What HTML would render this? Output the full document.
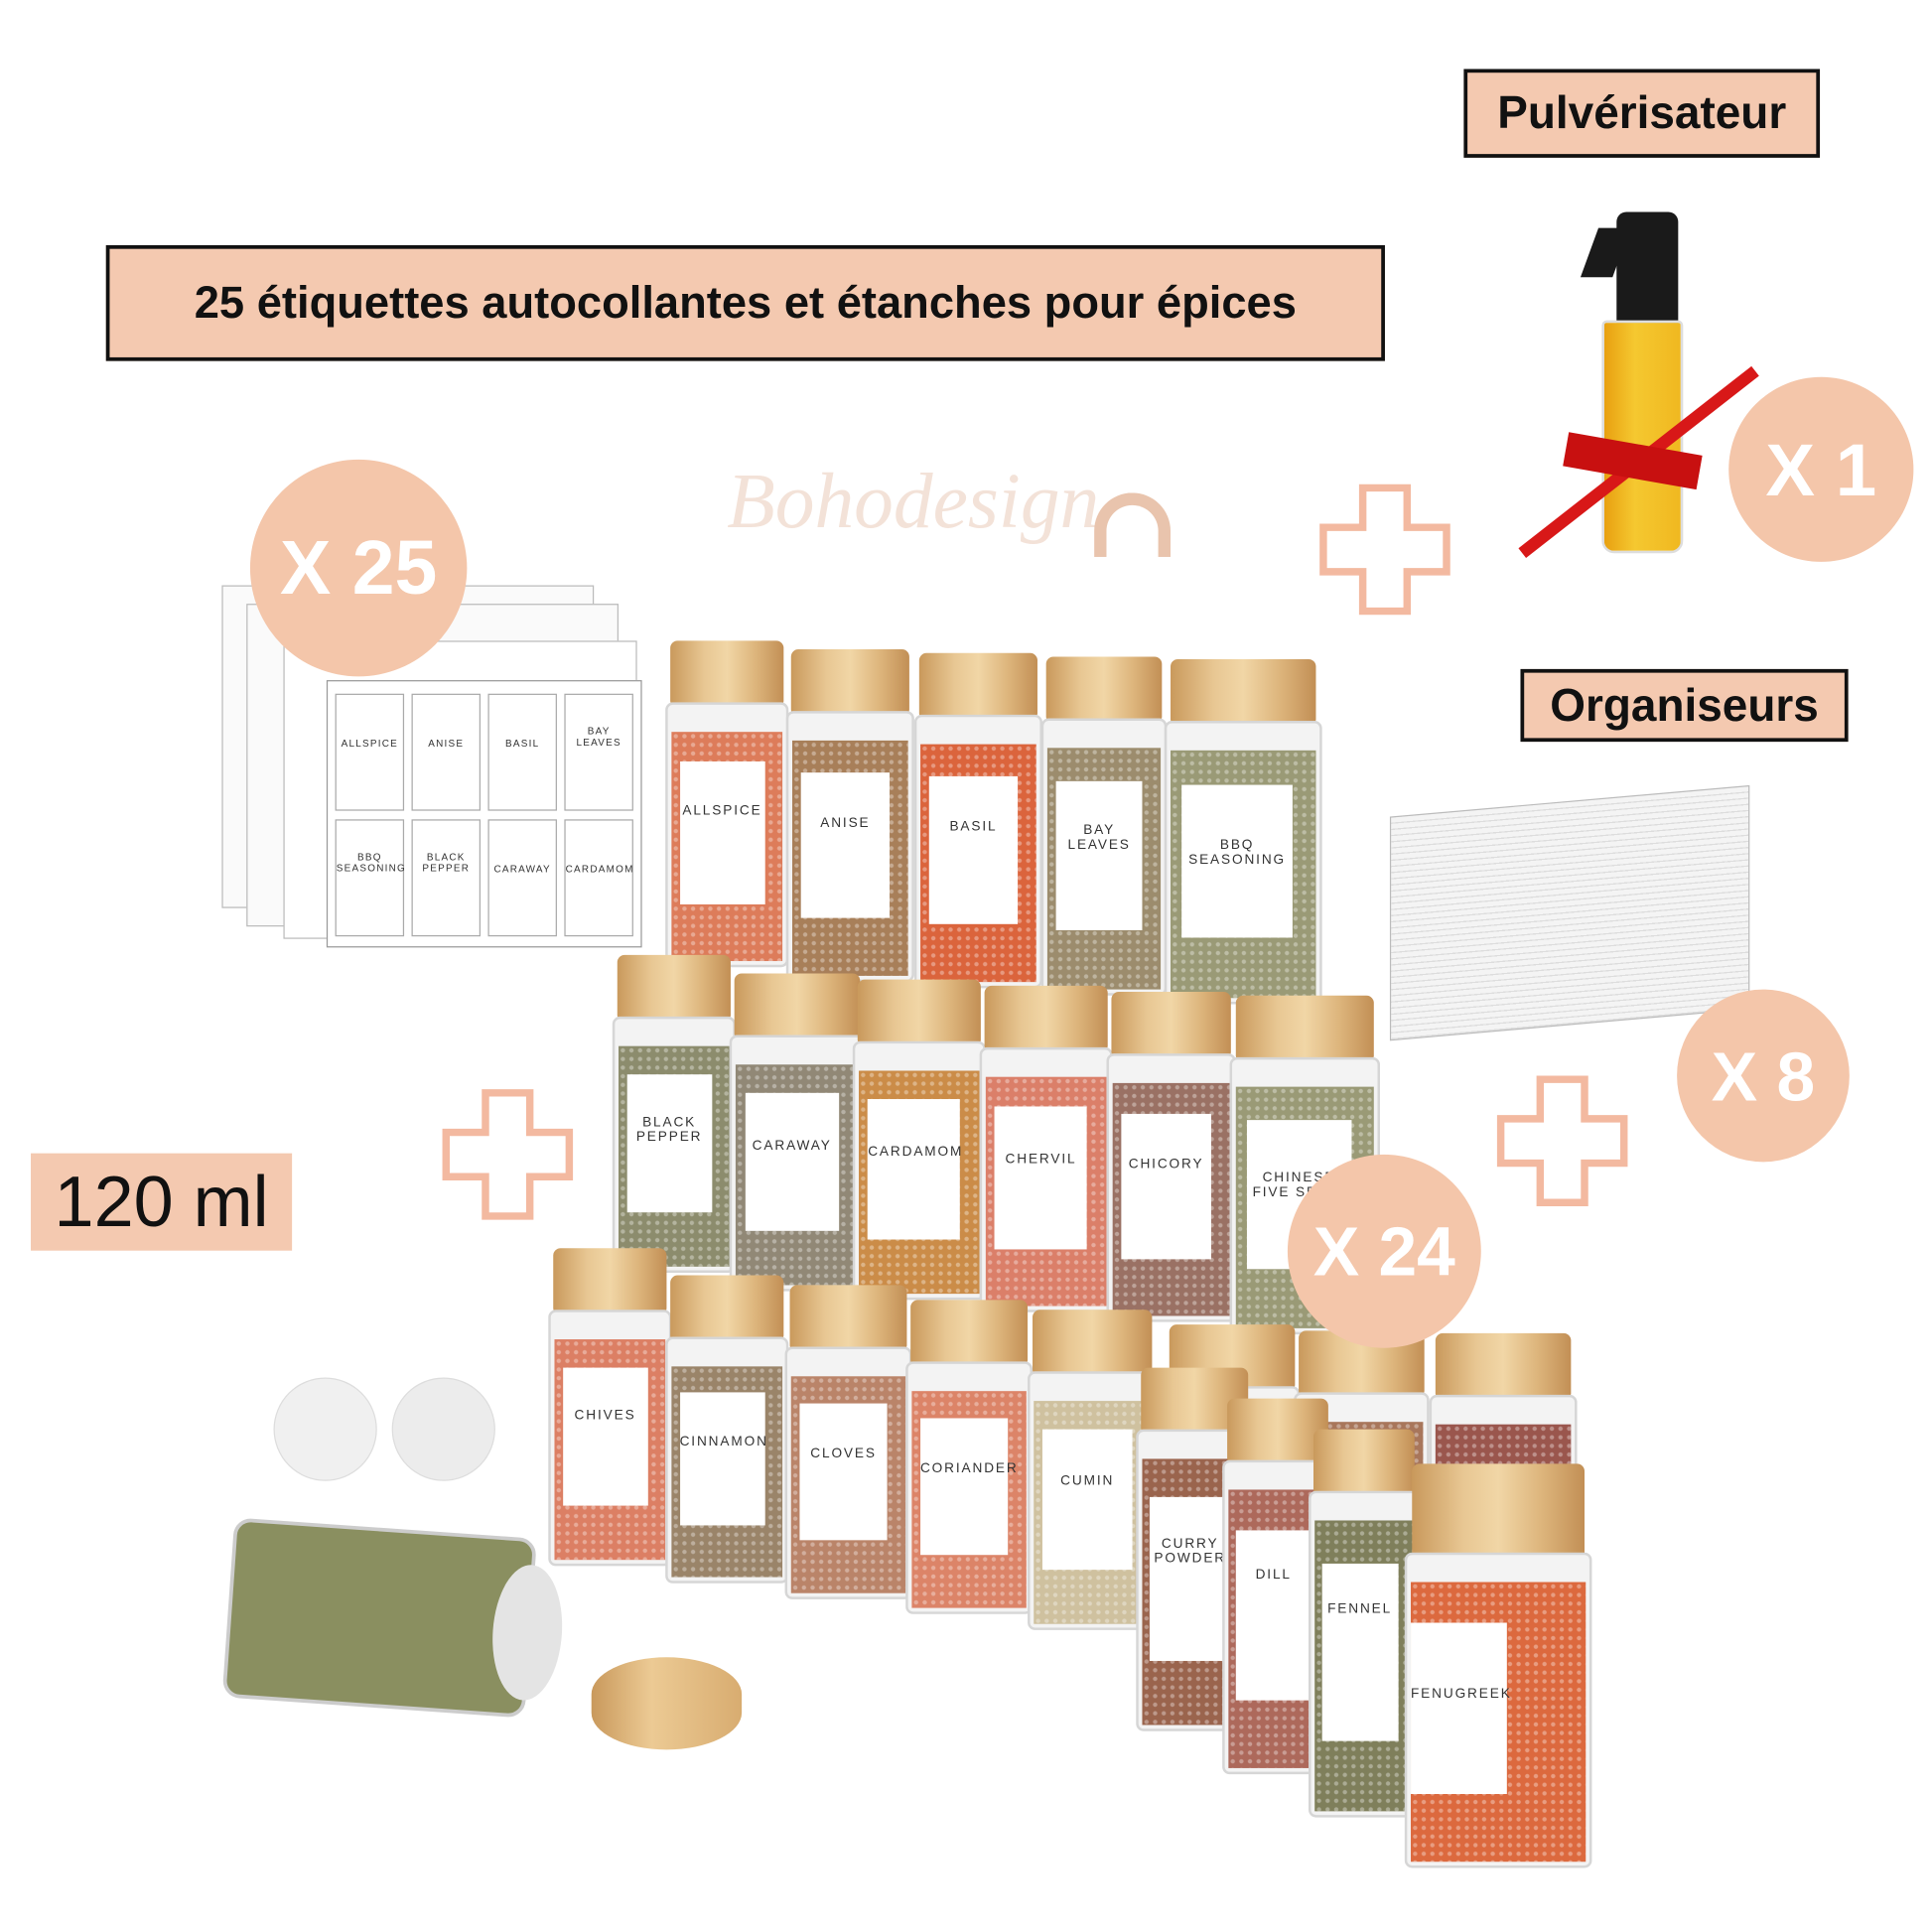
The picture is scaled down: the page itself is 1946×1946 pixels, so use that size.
<!DOCTYPE html>
<html><head><meta charset="utf-8"><style>
html,body{margin:0;padding:0;background:#fff;}
#w{width:1568px;height:1568px;position:relative;transform:scale(1.24107);transform-origin:0 0;overflow:hidden;font-family:"Liberation Sans",sans-serif;}
.box{position:absolute;background:#f4c9b0;border:3px solid #111;box-sizing:border-box;display:flex;align-items:center;justify-content:center;font-weight:bold;color:#111;white-space:nowrap;}
.c{position:absolute;border-radius:50%;background:#f4c6aa;color:#fff;font-weight:bold;display:flex;align-items:center;justify-content:center;}
.j{position:absolute;}
.j .lid{position:absolute;left:4%;right:4%;top:0;height:52px;border-radius:6px 6px 3px 3px;background:linear-gradient(90deg,#c9995c,#e8c793 30%,#f1d6a6 50%,#ddb57c 75%,#c28f55);}
.j .bd{position:absolute;left:0;right:0;top:50px;bottom:0;border:2px solid #d6d6d6;border-radius:6px;background:#f3f3f3;overflow:hidden;}
.j .ct{position:absolute;left:3px;right:3px;top:22px;bottom:3px;opacity:.85;background-image:radial-gradient(rgba(255,255,255,.35) 1.5px,transparent 2px);background-size:7px 7px;}
.j .lb{position:absolute;left:10%;right:18%;top:22%;height:55%;background:#fff;font-size:11px;letter-spacing:1.5px;color:#333;text-align:center;padding-top:35%;box-sizing:border-box;line-height:12px;}
.plus{position:absolute;}
</style></head><body><div id="w">
<div class="box" style="left:1188px;top:56px;width:289px;height:72px;font-size:37px;">Pulvérisateur</div>
<div class="box" style="left:86px;top:199px;width:1038px;height:94px;font-size:36.5px;">25 étiquettes autocollantes et étanches pour épices</div>
<div class="box" style="left:1234px;top:543px;width:266px;height:59px;font-size:37px;">Organiseurs</div>
<div style="position:absolute;left:25px;top:936px;width:212px;height:79px;background:#f4c9b0;font-size:58px;display:flex;align-items:center;justify-content:center;color:#111;">120 ml</div>

<div style="position:absolute;left:590px;top:370px;font-family:'Liberation Serif',serif;font-style:italic;font-size:64px;color:#f3e2d8;">Bohodesign</div>
<div style="position:absolute;left:888px;top:400px;width:62px;height:52px;border-radius:31px 31px 0 0;border:10px solid #e9c4ad;border-bottom:none;box-sizing:border-box;"></div>

<div style="position:absolute;left:180px;top:475px;width:300px;height:260px;border:1px solid #bbb;background:#fafafa;"></div>
<div style="position:absolute;left:200px;top:490px;width:300px;height:260px;border:1px solid #bbb;background:#fafafa;"></div>
<div style="position:absolute;left:230px;top:520px;width:285px;height:240px;border:1px solid #bbb;background:#fff;"></div>
<div style="position:absolute;left:265px;top:552px;width:254px;height:215px;border:1px solid #999;background:#fff;font-size:8px;letter-spacing:1px;color:#333;">
<div style="position:absolute;left:6px;top:10px;width:56px;height:95px;border:1px solid #aaa;text-align:center;padding-top:35px;box-sizing:border-box">ALLSPICE</div>
<div style="position:absolute;left:68px;top:10px;width:56px;height:95px;border:1px solid #aaa;text-align:center;padding-top:35px;box-sizing:border-box">ANISE</div>
<div style="position:absolute;left:130px;top:10px;width:56px;height:95px;border:1px solid #aaa;text-align:center;padding-top:35px;box-sizing:border-box">BASIL</div>
<div style="position:absolute;left:192px;top:10px;width:56px;height:95px;border:1px solid #aaa;text-align:center;padding-top:25px;box-sizing:border-box">BAY LEAVES</div>
<div style="position:absolute;left:6px;top:112px;width:56px;height:95px;border:1px solid #aaa;text-align:center;padding-top:25px;box-sizing:border-box">BBQ SEASONING</div>
<div style="position:absolute;left:68px;top:112px;width:56px;height:95px;border:1px solid #aaa;text-align:center;padding-top:25px;box-sizing:border-box">BLACK PEPPER</div>
<div style="position:absolute;left:130px;top:112px;width:56px;height:95px;border:1px solid #aaa;text-align:center;padding-top:35px;box-sizing:border-box">CARAWAY</div>
<div style="position:absolute;left:192px;top:112px;width:56px;height:95px;border:1px solid #aaa;text-align:center;padding-top:35px;box-sizing:border-box">CARDAMOM</div>
</div>

<!-- spray bottle -->
<div style="position:absolute;left:1312px;top:172px;width:50px;height:90px;background:#1a1a1a;border-radius:8px 8px 0 0;"></div>
<div style="position:absolute;left:1290px;top:185px;width:26px;height:40px;background:#1a1a1a;transform:skewX(-20deg);"></div>
<div style="position:absolute;left:1300px;top:260px;width:62px;height:185px;background:linear-gradient(90deg,#e8a010,#f5c830 40%,#f0b820);border:2px solid #ddd;border-radius:4px 4px 10px 10px;"></div>
<div style="position:absolute;left:1210px;top:370px;width:240px;height:10px;background:#d81818;transform:rotate(-38deg);"></div>
<div style="position:absolute;left:1270px;top:360px;width:110px;height:28px;background:#c81010;transform:rotate(10deg);"></div>

<div style="position:absolute;left:1128px;top:650px;width:290px;height:180px;background:repeating-linear-gradient(0deg,#ddd 0 1px,#f4f4f4 1px 5px);border:1px solid #bbb;transform:skewY(-5deg);"></div>

<svg class="plus" style="left:1070px;top:392px" width="108" height="108"><path d="M36 4h36v32h32v36h-32v32h-36v-32h-32v-36h32z" fill="#fff" stroke="#f3b9a0" stroke-width="6"/></svg>
<svg class="plus" style="left:358px;top:883px" width="108" height="108"><path d="M36 4h36v32h32v36h-32v32h-36v-32h-32v-36h32z" fill="#fff" stroke="#f3b9a0" stroke-width="6"/></svg>
<svg class="plus" style="left:1214px;top:872px" width="108" height="108"><path d="M36 4h36v32h32v36h-32v32h-36v-32h-32v-36h32z" fill="#fff" stroke="#f3b9a0" stroke-width="6"/></svg>

<div class="j" style="left:540px;top:520px;width:100px;height:265px"><div class="lid"></div><div class="bd"><div class="ct" style="background-color:#d9673f"></div><div class="lb">ALLSPICE</div></div></div>
<div class="j" style="left:638px;top:527px;width:104px;height:270px"><div class="lid"></div><div class="bd"><div class="ct" style="background-color:#9b6a3e"></div><div class="lb">ANISE</div></div></div>
<div class="j" style="left:742px;top:530px;width:104px;height:272px"><div class="lid"></div><div class="bd"><div class="ct" style="background-color:#d64a1c"></div><div class="lb">BASIL</div></div></div>
<div class="j" style="left:845px;top:533px;width:102px;height:275px"><div class="lid"></div><div class="bd"><div class="ct" style="background-color:#8c7a55"></div><div class="lb">BAY LEAVES</div></div></div>
<div class="j" style="left:945px;top:535px;width:128px;height:280px"><div class="lid"></div><div class="bd"><div class="ct" style="background-color:#8a8a60"></div><div class="lb">BBQ SEASONING</div></div></div>
<div class="j" style="left:497px;top:775px;width:100px;height:258px"><div class="lid"></div><div class="bd"><div class="ct" style="background-color:#7a7a55"></div><div class="lb">BLACK PEPPER</div></div></div>
<div class="j" style="left:592px;top:790px;width:110px;height:258px"><div class="lid"></div><div class="bd"><div class="ct" style="background-color:#7f7560"></div><div class="lb">CARAWAY</div></div></div>
<div class="j" style="left:692px;top:795px;width:108px;height:260px"><div class="lid"></div><div class="bd"><div class="ct" style="background-color:#c47a2a"></div><div class="lb">CARDAMOM</div></div></div>
<div class="j" style="left:795px;top:800px;width:108px;height:265px"><div class="lid"></div><div class="bd"><div class="ct" style="background-color:#d66a50"></div><div class="lb">CHERVIL</div></div></div>
<div class="j" style="left:898px;top:805px;width:105px;height:268px"><div class="lid"></div><div class="bd"><div class="ct" style="background-color:#8a5a4a"></div><div class="lb">CHICORY</div></div></div>
<div class="j" style="left:998px;top:808px;width:122px;height:275px"><div class="lid"></div><div class="bd"><div class="ct" style="background-color:#8a8a60"></div><div class="lb">CHINESE FIVE SPICE</div></div></div>
<div class="j" style="left:945px;top:1075px;width:110px;height:240px"><div class="lid"></div><div class="bd"><div class="ct" style="background-color:#9a6040"></div></div></div>
<div class="j" style="left:1050px;top:1080px;width:110px;height:240px"><div class="lid"></div><div class="bd"><div class="ct" style="background-color:#9a6040"></div></div></div>
<div class="j" style="left:1160px;top:1082px;width:120px;height:240px"><div class="lid"></div><div class="bd"><div class="ct" style="background-color:#8a3a30"></div></div></div>
<div class="j" style="left:445px;top:1013px;width:100px;height:258px"><div class="lid"></div><div class="bd"><div class="ct" style="background-color:#d86a4a"></div><div class="lb">CHIVES</div></div></div>
<div class="j" style="left:540px;top:1035px;width:100px;height:250px"><div class="lid"></div><div class="bd"><div class="ct" style="background-color:#8a7050"></div><div class="lb">CINNAMON</div></div></div>
<div class="j" style="left:637px;top:1043px;width:103px;height:255px"><div class="lid"></div><div class="bd"><div class="ct" style="background-color:#b07050"></div><div class="lb">CLOVES</div></div></div>
<div class="j" style="left:735px;top:1055px;width:103px;height:255px"><div class="lid"></div><div class="bd"><div class="ct" style="background-color:#d8704f"></div><div class="lb">CORIANDER</div></div></div>
<div class="j" style="left:834px;top:1063px;width:105px;height:260px"><div class="lid"></div><div class="bd"><div class="ct" style="background-color:#c8b890"></div><div class="lb">CUMIN</div></div></div>
<div class="j" style="left:922px;top:1110px;width:95px;height:295px"><div class="lid"></div><div class="bd"><div class="ct" style="background-color:#8a4a30"></div><div class="lb">CURRY POWDER</div></div></div>
<div class="j" style="left:992px;top:1135px;width:90px;height:305px"><div class="lid"></div><div class="bd"><div class="ct" style="background-color:#a05040"></div><div class="lb">DILL</div></div></div>
<div class="j" style="left:1062px;top:1160px;width:90px;height:315px"><div class="lid"></div><div class="bd"><div class="ct" style="background-color:#6a6a40"></div><div class="lb">FENNEL</div></div></div>
<div class="j" style="left:1140px;top:1188px;width:152px;height:328px"><div class="lid" style="height:75px"></div><div class="bd" style="top:72px"><div class="ct" style="background-color:#d8501e"></div><div class="lb" style="left:2%;right:45%">FENUGREEK</div></div></div>

<div style="position:absolute;left:185px;top:1240px;width:240px;height:140px;background:#8a8f60;border:3px solid #ccc;border-radius:14px;transform:rotate(4deg);"></div>
<div style="position:absolute;left:400px;top:1270px;width:56px;height:110px;background:#e4e4e4;border-radius:50%;transform:rotate(4deg);"></div>
<div style="position:absolute;left:480px;top:1345px;width:122px;height:75px;border-radius:50%/40%;background:linear-gradient(90deg,#c9995c,#ecca94 40%,#d8ac70);"></div>
<div style="position:absolute;left:222px;top:1118px;width:82px;height:82px;border-radius:50%;background:#f0f0f0;border:1px solid #ddd"></div>
<div style="position:absolute;left:318px;top:1118px;width:82px;height:82px;border-radius:50%;background:#ececec;border:1px solid #ddd"></div>

<div class="c" style="left:203px;top:373px;width:176px;height:176px;font-size:62px;">X 25</div>
<div class="c" style="left:1403px;top:306px;width:150px;height:150px;font-size:60px;">X 1</div>
<div class="c" style="left:1361px;top:803px;width:140px;height:140px;font-size:56px;">X 8</div>
<div class="c" style="left:1045px;top:937px;width:157px;height:157px;font-size:56px;">X 24</div>
</div></body></html>
